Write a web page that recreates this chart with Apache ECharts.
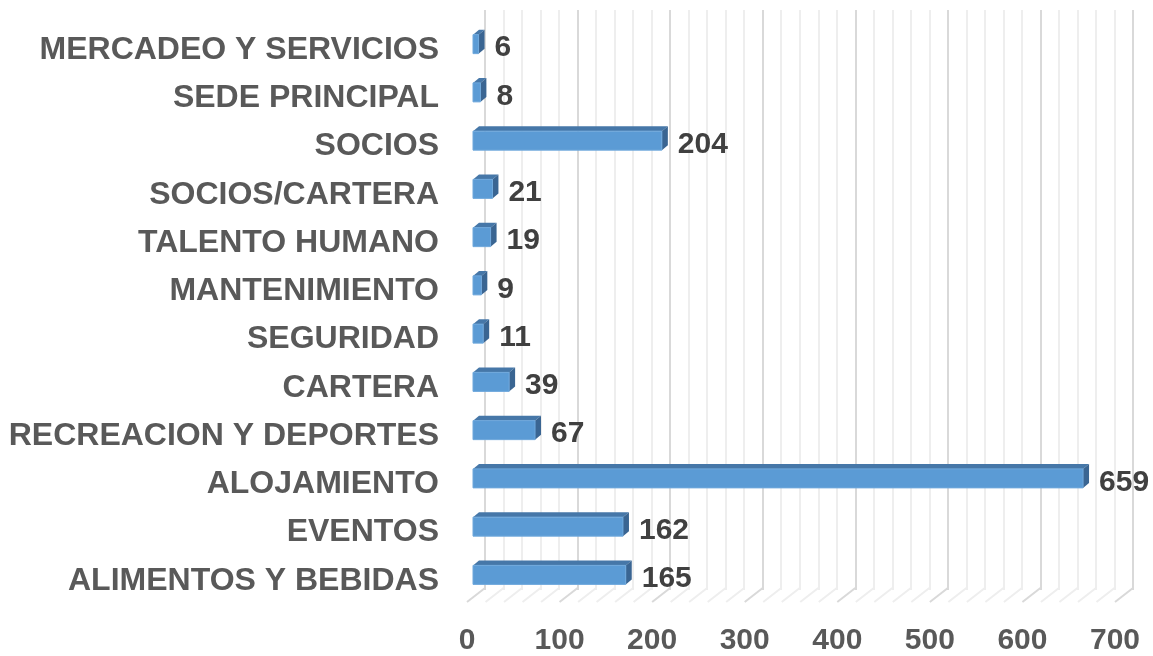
<!DOCTYPE html>
<html>
<head>
<meta charset="utf-8">
<script src="https://cdn.jsdelivr.net/npm/echarts@6/dist/echarts.min.js"></script>
<style>
  html, body { margin: 0; padding: 0; background: #fff; }
  #main { width: 1153px; height: 656px; }
</style>
</head>
<body>
<div id="main"></div>
<script>
// datos (de abajo hacia arriba, como en Excel)
var categories = ['ALIMENTOS Y BEBIDAS', 'EVENTOS', 'ALOJAMIENTO', 'RECREACION Y DEPORTES',
  'CARTERA', 'SEGURIDAD', 'MANTENIMIENTO', 'TALENTO HUMANO', 'SOCIOS/CARTERA',
  'SOCIOS', 'SEDE PRINCIPAL', 'MERCADEO Y SERVICIOS'];
var values = [165, 162, 659, 67, 39, 11, 9, 19, 21, 204, 8, 6];
var xMax = 700;
var xStep = 100;
var minorStep = 20;

var FONT = "'Liberation Sans', Arial, sans-serif";

// lineas del piso (cada 20)
var floorTicks = [];
for (var t = 0; t <= xMax; t += minorStep) floorTicks.push(t);

var myChart = echarts.init(document.getElementById('main'));

function renderFloor(params, api) {
    var v = api.value(0);
    var p = api.coord([v, 0]);
    var cs = params.coordSys;
    var bottom = cs.y + cs.height;
    var major = v % xStep === 0;
    return {
        type: 'line',
        shape: { x1: p[0] + 18, y1: bottom - 10, x2: p[0], y2: bottom + 4 },
        style: { stroke: major ? '#d9d9d9' : '#eeeeee', lineWidth: 2 },
        silent: true
    };
}

function renderBar(params, api) {
    var v = api.value(0);
    var i = api.value(1);
    var c0 = api.coord([0, i]);
    var c1 = api.coord([v, i]);
    var x0 = c0[0] + 6, x1 = c1[0] + 6;
    var h = 19, dx = 6, dy = 5;
    var yt = c0[1] - h / 2 + 1, yb = yt + h;
    return {
        type: 'group',
        children: [
            { type: 'polygon', shape: { points: [[x0, yt], [x1, yt], [x1 + dx, yt - dy], [x0 + dx, yt - dy]] },
              style: { fill: '#4677a8' } },
            { type: 'polygon', shape: { points: [[x1, yt], [x1 + dx, yt - dy], [x1 + dx, yb - dy], [x1, yb]] },
              style: { fill: '#3a6592' } },
            { type: 'rect', shape: { x: x0, y: yt, width: x1 - x0, height: h },
              style: { fill: '#5b9bd5', stroke: '#6fa8dc', lineWidth: 1 } },
            { type: 'text', x: x1 + dx + 10, y: c0[1] + 5,
              style: { text: String(v), fill: '#404040', font: 'bold 30px ' + FONT,
                       verticalAlign: 'middle', align: 'left' } }
        ]
    };
}

var option = {
    animation: false,
    backgroundColor: '#fff',
    grid: [
        { left: 467, right: 38, top: 19, bottom: 56 },
        { left: 485, right: 20, top: 10, bottom: 66 }
    ],
    xAxis: [
        {
            gridIndex: 0, type: 'value', min: 0, max: xMax, interval: xStep,
            axisLine: { show: false }, axisTick: { show: false }, splitLine: { show: false },
            axisLabel: { color: '#595959', fontSize: 30, fontWeight: 'bold', fontFamily: FONT, margin: 28 }
        },
        {
            gridIndex: 1, type: 'value', min: 0, max: xMax, interval: xStep,
            axisLine: { show: false }, axisTick: { show: false }, axisLabel: { show: false },
            splitLine: { show: true, lineStyle: { color: '#d9d9d9', width: 2 } },
            minorTick: { show: true, splitNumber: xStep / minorStep, length: 0 },
            minorSplitLine: { show: true, lineStyle: { color: '#eeeeee', width: 2 } }
        }
    ],
    yAxis: [
        {
            gridIndex: 0, type: 'category', data: categories,
            axisLine: { show: false }, axisTick: { show: false },
            axisLabel: {
                margin: 28,
                formatter: function (v) { return '{c|' + v + '}'; },
                rich: {
                    c: { color: '#595959', fontSize: 32, fontWeight: 'bold', fontFamily: FONT,
                         padding: [14, 0, 0, 0] }
                }
            }
        },
        { gridIndex: 1, type: 'value', show: false }
    ],
    series: [
        {
            type: 'custom', xAxisIndex: 0, yAxisIndex: 0, z: 1,
            renderItem: renderFloor,
            data: floorTicks.map(function (t) { return [t, 0]; })
        },
        {
            type: 'custom', xAxisIndex: 0, yAxisIndex: 0, z: 5,
            renderItem: renderBar,
            data: values.map(function (v, i) { return [v, i]; })
        }
    ]
};

myChart.setOption(option);
</script>
</body>
</html>
